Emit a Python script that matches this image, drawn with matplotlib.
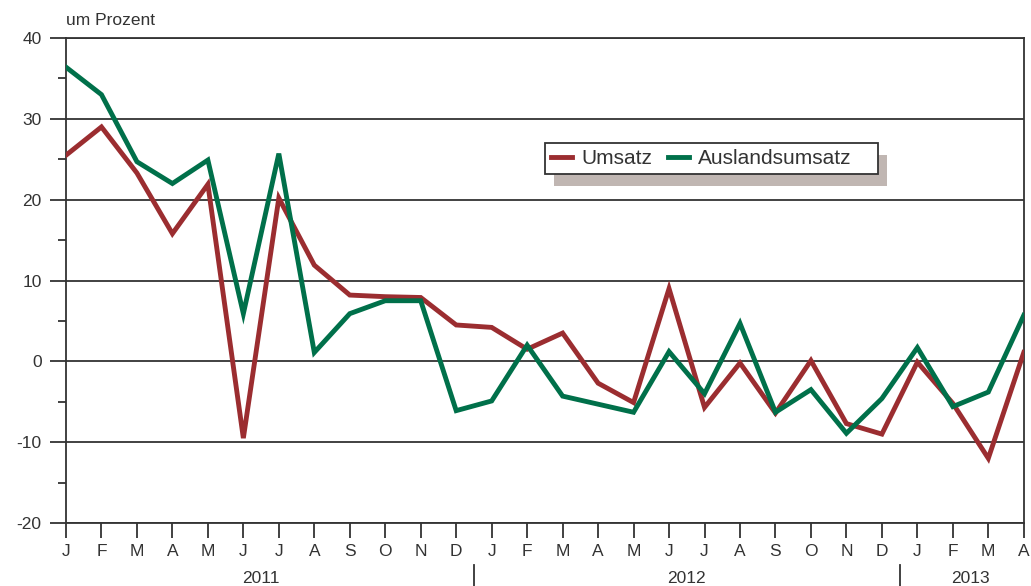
import numpy as np
import matplotlib
matplotlib.use('Agg')
import matplotlib.pyplot as plt
from matplotlib.ticker import MultipleLocator
from matplotlib.patches import Rectangle

plt.rcParams['font.family'] = ['Liberation Sans', 'DejaVu Sans']
plt.rcParams['axes.unicode_minus'] = False

# month labels Jan 2011 .. Apr 2013
months = ['J', 'F', 'M', 'A', 'M', 'J', 'J', 'A', 'S', 'O', 'N', 'D',
          'J', 'F', 'M', 'A', 'M', 'J', 'J', 'A', 'S', 'O', 'N', 'D',
          'J', 'F', 'M', 'A']
years = ['2011', '2012', '2013']
year_centers = [5.5, 17.5, 25.5]
year_breaks = [11.5, 23.5]

umsatz = [25.5, 29.0, 23.3, 15.8, 21.9, -9.5, 20.2, 11.9, 8.2, 8.0, 7.9, 4.5,
          4.2, 1.5, 3.5, -2.7, -5.1, 9.0, -5.7, -0.2, -6.4, 0.1, -7.7, -9.0,
          -0.1, -5.2, -12.0, 1.1]
ausland = [36.4, 33.0, 24.7, 22.0, 24.9, 5.9, 25.7, 1.1, 5.9, 7.5, 7.5, -6.1,
           -4.9, 2.0, -4.3, -5.3, -6.3, 1.2, -4.0, 4.7, -6.3, -3.5, -8.9, -4.6,
           1.7, -5.6, -3.8, 5.7]

red = '#9b2d30'
green = '#00704a'
dark = '#333333'

fig = plt.figure(figsize=(10.31, 5.86), dpi=100)
ax = fig.add_axes([0.064, 0.1075, 0.929, 0.8276])

x = np.arange(len(months))
ax.plot(x, umsatz, color=red, lw=3.5, label='Umsatz', solid_joinstyle='miter', zorder=3)
ax.plot(x, ausland, color=green, lw=3.5, label='Auslandsumsatz', solid_joinstyle='miter', zorder=3)

ax.set_xlim(0, len(months) - 1)
ax.set_ylim(-20, 40)
ax.yaxis.set_major_locator(MultipleLocator(10))
ax.yaxis.set_minor_locator(MultipleLocator(5))
ax.grid(axis='y', which='major', color=dark, lw=1.3, zorder=1)

for s in ax.spines.values():
    s.set_color(dark)
    s.set_linewidth(1.3)

ax.set_xticks(x)
ax.set_xticklabels(months)
ax.tick_params(axis='x', direction='out', length=11, width=1.3, color=dark,
               labelsize=12.5, labelcolor=dark, pad=4)
ax.tick_params(axis='y', which='major', direction='out', length=11.5, width=1.3,
               color=dark, labelsize=12.5, labelcolor=dark, pad=6)
ax.tick_params(axis='y', which='minor', direction='out', length=5.5, width=1.3, color=dark)

tr = ax.get_xaxis_transform()
for name, c in zip(years, year_centers):
    ax.text(c, -0.115, name, transform=tr, ha='center', va='center',
            fontsize=12.5, color=dark)
for b in year_breaks:
    ax.plot([b, b], [-0.087, -0.135], transform=tr, color=dark, lw=1.3, clip_on=False)

fig.text(0.064, 0.965, 'um Prozent', ha='left', va='center', fontsize=12.5, color=dark)

# legend box with a grey drop shadow
bx0, by0, bw, bh = 0.500, 0.7196, 0.3476, 0.0639
ax.add_patch(Rectangle((bx0 + 0.0094, by0 - 0.0247), bw, bh, transform=ax.transAxes,
                       facecolor='#c0b6b2', edgecolor='none', zorder=5))
ax.add_patch(Rectangle((bx0, by0), bw, bh, transform=ax.transAxes,
                       facecolor='white', edgecolor=dark, lw=1.3, zorder=6))
leg = ax.legend(loc='center left', bbox_to_anchor=(bx0 + 0.0065, by0 + bh / 2), ncol=2,
                fontsize=15, frameon=False, handlelength=1.0, handletextpad=0.45,
                columnspacing=0.75, borderpad=0, borderaxespad=0)
leg.set_zorder(7)
for t in leg.get_texts():
    t.set_color(dark)

fig.savefig('out.png', dpi=100)
